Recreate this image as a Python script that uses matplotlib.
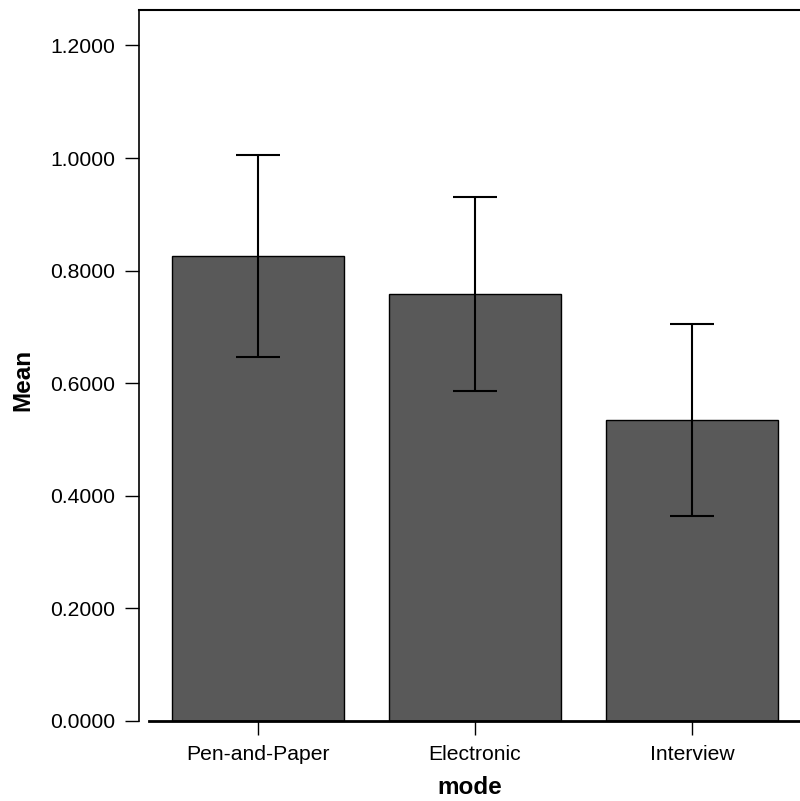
import numpy as np
import matplotlib
matplotlib.use("Agg")
import matplotlib.pyplot as plt

plt.rcParams['font.family'] = ['Liberation Sans', 'DejaVu Sans']

modes = ['Pen-and-Paper', 'Electronic', 'Interview']
means = [0.826, 0.758, 0.535]
errs = [0.180, 0.172, 0.170]
yticks = [0.0, 0.2, 0.4, 0.6, 0.8, 1.0, 1.2]

fig = plt.figure(figsize=(8, 8.01), dpi=100)
ax = fig.add_axes([139/800, 80/801, 1 - 139/800, 711/801])

x = np.arange(len(modes))
ax.bar(x, means, width=0.793, color='#595959', edgecolor='black', linewidth=1, zorder=2)
ax.errorbar(x, means, yerr=errs, fmt='none', ecolor='black', elinewidth=1.5,
            capsize=15.5, capthick=1.5, zorder=3)

ax.set_xlim(-0.548, 2.498)
ax.set_ylim(0, 1.263)
ax.set_yticks(yticks)
ax.set_yticklabels(['%.4f' % v for v in yticks])
ax.set_xticks(x)
ax.set_xticklabels(modes)

ax.spines['right'].set_visible(False)
ax.spines['left'].set_linewidth(1.2)
ax.spines['top'].set_linewidth(1.5)
ax.spines['bottom'].set_linewidth(2)
ax.spines['bottom'].set_bounds(-0.50, 2.498)
ax.tick_params(axis='both', direction='out', length=10, width=1, labelsize=15.2, pad=7)

ax.set_ylabel('Mean', fontsize=17.5, fontweight='bold')
ax.yaxis.set_label_coords(-0.158, 0.479)
ax.set_xlabel('mode', fontsize=17.5, fontweight='bold', labelpad=9)

fig.savefig('out.png', dpi=100)
